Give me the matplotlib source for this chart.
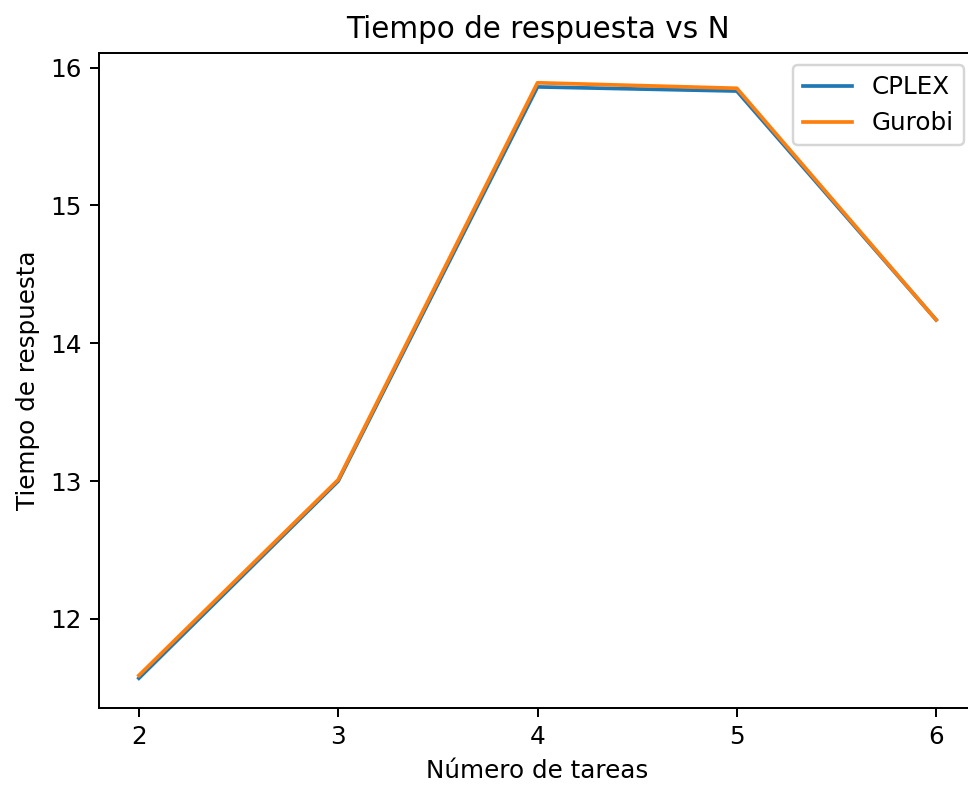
import matplotlib
matplotlib.use("Agg")
import matplotlib.pyplot as plt

DPI = 177

# Data
n_tareas = [2, 3, 4, 5, 6]
cplex = [11.57, 13.00, 15.86, 15.83, 14.17]
gurobi = [11.59, 13.01, 15.89, 15.85, 14.17]

fig = plt.figure(figsize=(968 / DPI, 787 / DPI), dpi=DPI)
# the reference is cropped on the right, so the axes run slightly past the edge
ax = fig.add_axes([99 / 968, 79 / 787, 877 / 968, 655 / 787])

ax.plot(n_tareas, cplex, label="CPLEX")
ax.plot(n_tareas, gurobi, label="Gurobi")

ax.set_xticks(n_tareas)
ax.set_title("Tiempo de respuesta vs N")
ax.set_xlabel("Número de tareas")
ax.set_ylabel("Tiempo de respuesta")
ax.legend()
# right spine falls outside the cropped picture
ax.spines["right"].set_visible(False)

fig.savefig("out.png", dpi=DPI)
